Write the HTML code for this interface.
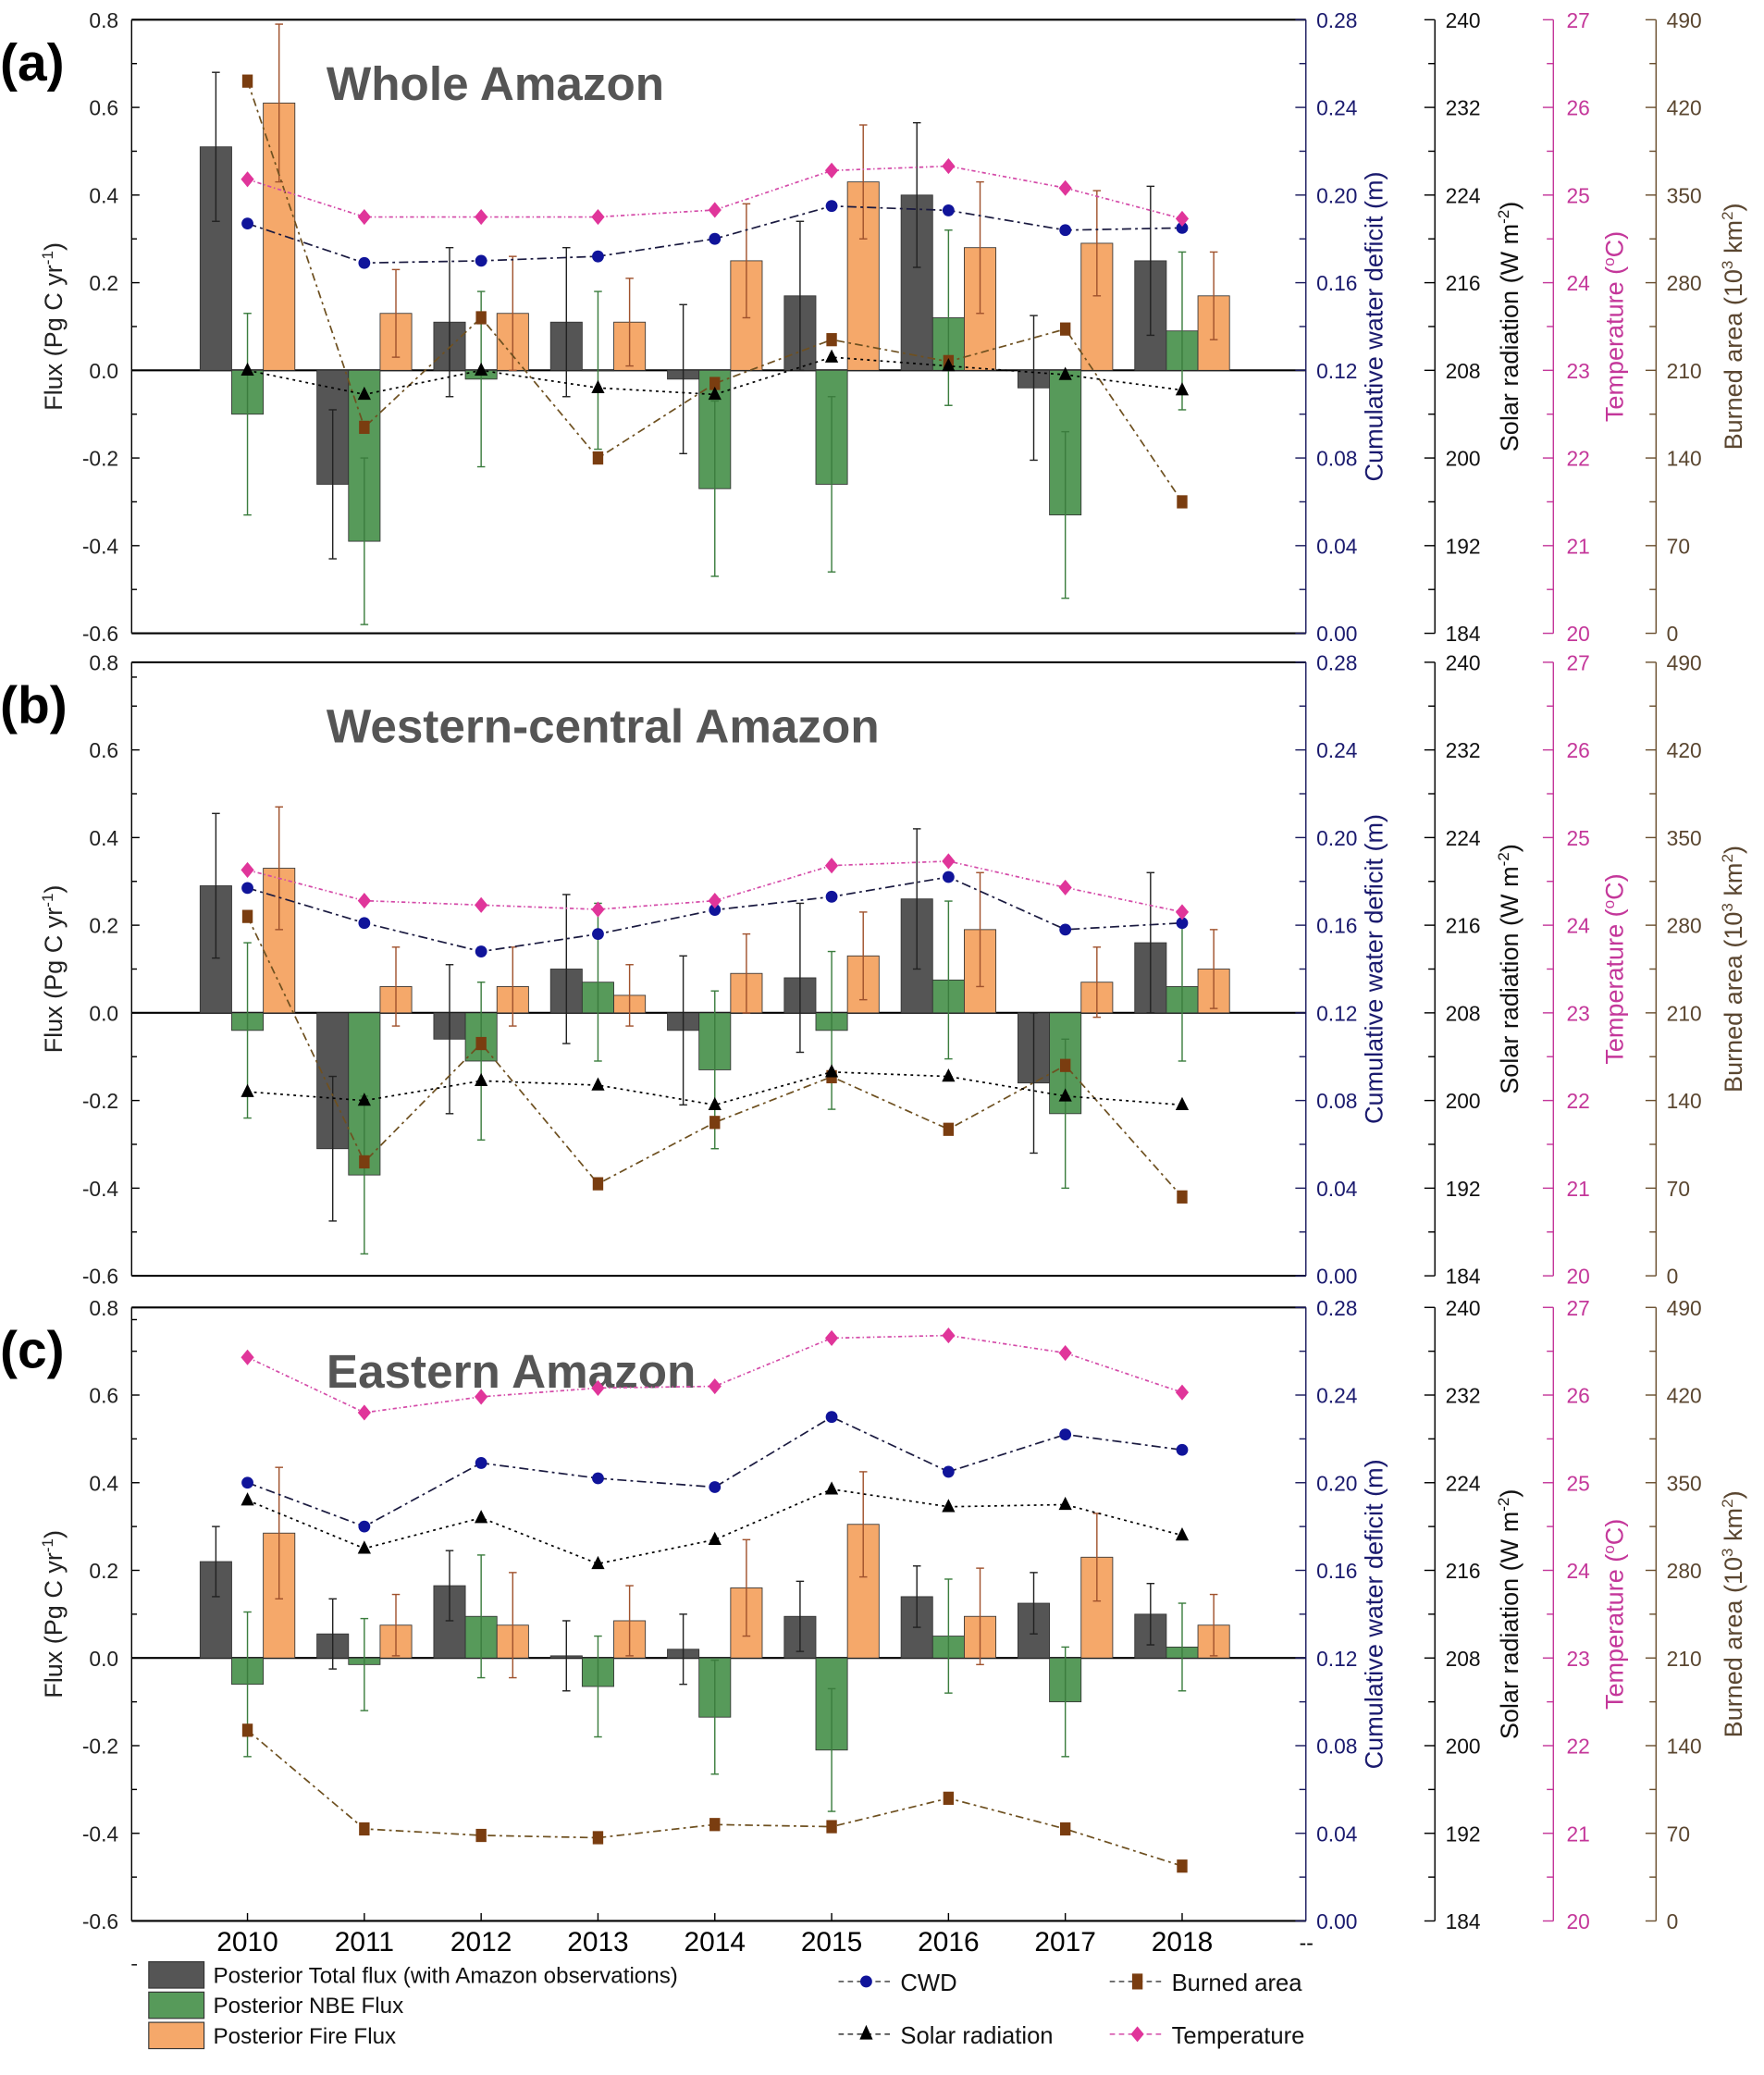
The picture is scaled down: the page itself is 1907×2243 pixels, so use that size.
<!DOCTYPE html>
<html><head><meta charset="utf-8">
<style>
html,body{margin:0;padding:0;background:#fff;}
svg{display:block;font-family:"Liberation Sans",Arial,sans-serif;}
</style></head>
<body>
<svg id="chart" width="1907" height="2243" viewBox="0 0 1340 1576" preserveAspectRatio="none" xmlns="http://www.w3.org/2000/svg"></svg>
<script>
const years = ["2010","2011","2012","2013","2014","2015","2016","2017","2018"];
const panelTitles = ["Whole Amazon","Western-central Amazon","Eastern Amazon"];
const panelLetters = ["(a)","(b)","(c)"];
const fluxTicks = [0.8,0.6,0.4,0.2,0.0,-0.2,-0.4,-0.6];
const cwdTicks = ["0.28","0.24","0.20","0.16","0.12","0.08","0.04","0.00"];
const solarTicks = ["240","232","224","216","208","200","192","184"];
const tempTicks = ["27","26","25","24","23","22","21","20"];
const burnTicks = ["490","420","350","280","210","140","70","0"];

const totalA = [0.51,-0.26,0.11,0.11,-0.02,0.17,0.40,-0.04,0.25];
const totalErrA = [0.17,0.17,0.17,0.17,0.17,0.17,0.165,0.165,0.17];
const nbeA = [-0.10,-0.39,-0.02,0.0,-0.27,-0.26,0.12,-0.33,0.09];
const nbeErrA = [0.23,0.19,0.20,0.18,0.20,0.20,0.20,0.19,0.18];
const fireA = [0.61,0.13,0.13,0.11,0.25,0.43,0.28,0.29,0.17];
const fireErrA = [0.18,0.10,0.13,0.10,0.13,0.13,0.15,0.12,0.10];
const cwdA = [0.187,0.169,0.170,0.172,0.180,0.195,0.193,0.184,0.185];
const solarA = [208,205.8,208,206.4,205.8,209.2,208.4,207.6,206.2];
const tempA = [25.18,24.75,24.75,24.75,24.83,25.28,25.33,25.08,24.73];
const burnA = [441,164.5,252,140,199.5,234.5,217,243,105];

const totalB = [0.29,-0.31,-0.06,0.10,-0.04,0.08,0.26,-0.16,0.16];
const totalErrB = [0.165,0.165,0.17,0.17,0.17,0.17,0.16,0.16,0.16];
const nbeB = [-0.04,-0.37,-0.11,0.07,-0.13,-0.04,0.075,-0.23,0.06];
const nbeErrB = [0.20,0.18,0.18,0.18,0.18,0.18,0.18,0.17,0.17];
const fireB = [0.33,0.06,0.06,0.04,0.09,0.13,0.19,0.07,0.10];
const fireErrB = [0.14,0.09,0.09,0.07,0.09,0.10,0.13,0.08,0.09];
const cwdB = [0.177,0.161,0.148,0.156,0.167,0.173,0.182,0.158,0.161];
const solarB = [200.8,200,201.8,201.4,199.6,202.6,202.2,200.4,199.6];
const tempB = [24.63,24.28,24.23,24.18,24.28,24.68,24.73,24.43,24.15];
const burnB = [287,91,185.5,73.5,122.5,159,117,168,63];

const totalC = [0.22,0.055,0.165,0.005,0.02,0.095,0.14,0.125,0.10];
const totalErrC = [0.08,0.08,0.08,0.08,0.08,0.08,0.07,0.07,0.07];
const nbeC = [-0.06,-0.015,0.095,-0.065,-0.135,-0.21,0.05,-0.10,0.025];
const nbeErrC = [0.165,0.105,0.14,0.115,0.13,0.14,0.13,0.125,0.10];
const fireC = [0.285,0.075,0.075,0.085,0.16,0.305,0.095,0.23,0.075];
const fireErrC = [0.15,0.07,0.12,0.08,0.11,0.12,0.11,0.10,0.07];
const cwdC = [0.200,0.180,0.209,0.202,0.198,0.230,0.205,0.222,0.215];
const solarC = [222.4,218,220.8,216.6,218.8,223.4,221.8,222,219.2];
const tempC = [26.43,25.8,25.98,26.08,26.1,26.65,26.68,26.48,26.03];
const burnC = [152.3,73.5,68.3,66.5,77,75.3,98,73.5,43.8];

const panels = [
 {top:15,total:totalA,totalErr:totalErrA,nbe:nbeA,nbeErr:nbeErrA,fire:fireA,fireErr:fireErrA,cwd:cwdA,solar:solarA,temp:tempA,burn:burnA},
 {top:503,total:totalB,totalErr:totalErrB,nbe:nbeB,nbeErr:nbeErrB,fire:fireB,fireErr:fireErrB,cwd:cwdB,solar:solarB,temp:tempB,burn:burnB},
 {top:993,total:totalC,totalErr:totalErrC,nbe:nbeC,nbeErr:nbeErrC,fire:fireC,fireErr:fireErrC,cwd:cwdC,solar:solarC,temp:tempC,burn:burnC}
];

const svg = document.getElementById('chart');
const NS = "http://www.w3.org/2000/svg";
function mk(tag, attrs, parent, text){
  const e = document.createElementNS(NS, tag);
  for (const k in attrs) e.setAttribute(k, attrs[k]);
  if (text !== undefined) e.textContent = text;
  (parent||svg).appendChild(e);
  return e;
}
const L = 100, R = 992, H = 466;
const xScale = i => 188 + i*88.75;
const BW = 24;

panels.forEach((p, pi) => {
  const g = mk('g', {});
  
  
  const T = p.top, B = T + H;
  const yF = v => T + (0.8 - v) / 1.4 * H;
  const yCwd = v => T + (0.28 - v) / 0.28 * H;
  const ySol = v => T + (240 - v) / 56 * H;
  const yTmp = v => T + (27 - v) / 7 * H;
  const yBrn = v => T + (490 - v) / 490 * H;

  mk('line', {x1:L,y1:T,x2:R,y2:T,stroke:'#000','stroke-width':1.5}, g);
  mk('line', {x1:L,y1:B,x2:R,y2:B,stroke:'#000','stroke-width':1.5}, g);
  mk('line', {x1:L,y1:T,x2:L,y2:B,stroke:'#000','stroke-width':1}, g);
  mk('line', {x1:L,y1:yF(0),x2:R,y2:yF(0),stroke:'#000','stroke-width':1.5}, g);
  fluxTicks.forEach(v => {
    mk('line', {x1:L,y1:yF(v),x2:L+6,y2:yF(v),stroke:'#000'}, g);
    mk('line', {x1:L,y1:yF(v-0.1),x2:L+4,y2:yF(v-0.1),stroke:'#000'}, g);
    const t = mk('text', {x:L-10,y:yF(v)+6,'text-anchor':'end','font-size':16,fill:'#222'}, g, v.toFixed(1));
    
    
  });
  const yt = mk('text', {transform:`translate(47,${yF(0.1)}) rotate(-90)`,'text-anchor':'middle','font-size':19,fill:'#222'}, g);
  
  
  yt.innerHTML = 'Flux (Pg C yr<tspan dy="-7" font-size="12">-1</tspan><tspan dy="7">)</tspan>';

  const axes = [
    {x:R, col:'#1a1a5e', ticks:cwdTicks, title:'Cumulative water deficit (m)', tx:1050, lx:1000, name:'cwd'},
    {x:1090, col:'#000', ticks:solarTicks, title:'Solar radiation (W m<tspan dy="-7" font-size="12">-2</tspan><tspan dy="7">)</tspan>', tx:1153, lx:1098, name:'solar'},
    {x:1180, col:'#c4379a', ticks:tempTicks, title:'Temperature (<tspan dy="-7" font-size="12">o</tspan><tspan dy="7">C)</tspan>', tx:1233, lx:1190, name:'temperature'},
    {x:1258, col:'#6b5030', ticks:burnTicks, title:'Burned area (10<tspan dy="-7" font-size="12">3</tspan><tspan dy="7"> km</tspan><tspan dy="-7" font-size="12">2</tspan><tspan dy="7">)</tspan>', tx:1323, lx:1266, name:'burned'}
  ];
  const labCols = ['#1a1a6e','#111','#c4379a','#5a4630'];
  axes.forEach((a, ai) => {
    mk('line', {x1:a.x,y1:T,x2:a.x,y2:B,stroke:a.col,'stroke-width':1}, g);
    for (let k=0;k<15;k++){
      const yy = T + k*H/14, len = k%2===0 ? 8 : 5;
      mk('line', {x1:a.x-len,y1:yy,x2:a.x,y2:yy,stroke:a.col}, g);
    }
    a.ticks.forEach((s, k) => {
      const t = mk('text', {x:a.lx,y:T + k*H/7 + 6,'font-size':16,fill:labCols[ai]}, g, s);
      
      
    });
    const tt = mk('text', {transform:`translate(${a.tx},${T+H/2}) rotate(-90)`,'text-anchor':'middle','font-size':19,fill:labCols[ai]}, g);
    
    
    tt.innerHTML = a.title;
  });

  const lt = mk('text', {x:0,y:T+46,'font-size':40,'font-weight':'bold',fill:'#000'}, g, panelLetters[pi]);
  
  
  const pt = mk('text', {x:248,y:T+61,'font-size':36,'font-weight':'bold',fill:'#555'}, g, panelTitles[pi]);
  
  

  const series = [
    {v:p.total, e:p.totalErr, off:-BW, fill:'#555555', ec:'#222', name:'total-flux-bar'},
    {v:p.nbe, e:p.nbeErr, off:0, fill:'#579a5a', ec:'#3b7d3e', name:'nbe-flux-bar'},
    {v:p.fire, e:p.fireErr, off:BW, fill:'#f5a86a', ec:'#a0522d', name:'fire-flux-bar'}
  ];
  series.forEach(s => {
    s.v.forEach((v, i) => {
      const cx = xScale(i) + s.off;
      const y0 = yF(0), y1 = yF(v);
      const r = mk('rect', {x:cx-BW/2,y:Math.min(y0,y1),width:BW,height:Math.max(0.5,Math.abs(y1-y0)),fill:s.fill,stroke:'#333','stroke-width':0.6}, g);
      
      
      const eh = yF(v + s.e[i]), el = yF(v - s.e[i]);
      mk('line', {x1:cx,y1:eh,x2:cx,y2:el,stroke:s.ec,'stroke-width':1}, g);
      mk('line', {x1:cx-3,y1:eh,x2:cx+3,y2:eh,stroke:s.ec,'stroke-width':1}, g);
      mk('line', {x1:cx-3,y1:el,x2:cx+3,y2:el,stroke:s.ec,'stroke-width':1}, g);
    });
  });

  const lines = [
    {v:p.burn, f:yBrn, col:'#6e5020', mcol:'#7a3d10', dash:'6 3 2 3', m:'sq', name:'burned-area'},
    {v:p.solar, f:ySol, col:'#000', mcol:'#000', dash:'2 3', m:'tri', name:'solar-radiation'},
    {v:p.cwd, f:yCwd, col:'#1a1a40', mcol:'#10149a', dash:'7 3 2 3', m:'dot', name:'cwd'},
    {v:p.temp, f:yTmp, col:'#d44aa8', mcol:'#e0359a', dash:'3 2 1 2', m:'dia', name:'temperature'}
  ];
  lines.forEach(ln => {
    const pts = ln.v.map((v,i) => xScale(i).toFixed(1)+','+ln.f(v).toFixed(1)).join(' ');
    const pl = mk('polyline', {points:pts,fill:'none',stroke:ln.col,'stroke-width':1.2,'stroke-dasharray':ln.dash}, g);
    
    
    ln.v.forEach((v,i) => {
      const x = xScale(i), y = ln.f(v);
      let m;
      if (ln.m==='sq') m = mk('rect', {x:x-4,y:y-5,width:8,height:10,fill:ln.mcol}, g);
      else if (ln.m==='tri') m = mk('polygon', {points:`${x},${y-6} ${x-5},${y+4} ${x+5},${y+4}`,fill:ln.mcol}, g);
      else if (ln.m==='dot') m = mk('circle', {cx:x,cy:y,r:4.5,fill:ln.mcol}, g);
      else m = mk('polygon', {points:`${x},${y-6} ${x+5},${y} ${x},${y+6} ${x-5},${y}`,fill:ln.mcol}, g);
      
      
    });
  });

  if (pi === 2) {
    years.forEach((yr,i) => {
      mk('line', {x1:xScale(i),y1:B,x2:xScale(i),y2:B-6,stroke:'#000'}, g);
      const t = mk('text', {x:xScale(i),y:B+23,'text-anchor':'middle','font-size':21,fill:'#000'}, g, yr);
      
      
    });
    mk('text', {x:R-5,y:B+22,'font-size':16,fill:'#000'}, g, '--');
  }
});

const lg = mk('g', {});


const barLeg = [['#555555','Posterior Total flux (with Amazon observations)'],['#579a5a','Posterior NBE Flux'],['#f5a86a','Posterior Fire Flux']];
barLeg.forEach((b,i) => {
  const y = 1490 + i*23;
  const r = mk('rect', {x:113,y:y,width:42,height:20,fill:b[0],stroke:'#333','stroke-width':0.8}, lg);
  
  
  const t = mk('text', {x:162,y:y+16,'font-size':17,fill:'#111'}, lg, b[1]);
  
  
});
const lineLeg = [
  {x:637,y:1505,col:'#10149a',m:'dot',txt:'CWD'},
  {x:843,y:1505,col:'#7a3d10',m:'sq',txt:'Burned area'},
  {x:637,y:1545,col:'#000',m:'tri',txt:'Solar radiation'},
  {x:843,y:1545,col:'#e0359a',m:'dia',txt:'Temperature'}
];
lineLeg.forEach(l => {
  mk('line', {x1:l.x,y1:l.y,x2:l.x+42,y2:l.y,stroke:l.m==='dia'?'#d44aa8':'#333','stroke-dasharray':'4 3'}, lg);
  const cx = l.x+21, cy = l.y;
  if (l.m==='dot') mk('circle',{cx:cx,cy:cy,r:4.5,fill:l.col},lg);
  else if (l.m==='sq') mk('rect',{x:cx-4,y:cy-6,width:8,height:12,fill:l.col},lg);
  else if (l.m==='tri') mk('polygon',{points:`${cx},${cy-7} ${cx-5},${cy+4} ${cx+5},${cy+4}`,fill:l.col},lg);
  else mk('polygon',{points:`${cx},${cy-6} ${cx+5},${cy} ${cx},${cy+6} ${cx-5},${cy}`,fill:l.col},lg);
  const t = mk('text', {x:l.x+47,y:l.y+7,'font-size':18,fill:'#111'}, lg, l.txt);
  
  
});
</script>
</body></html>
